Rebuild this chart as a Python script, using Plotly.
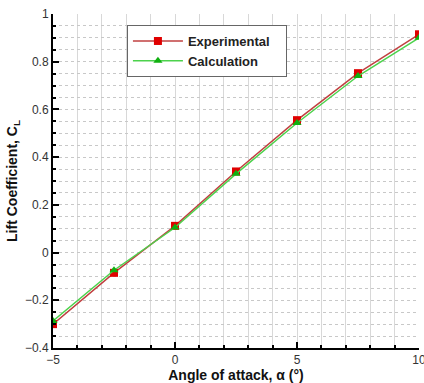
import plotly.graph_objects as go

alpha = [-5, -2.5, 0, 2.5, 5, 7.5, 10]
cl_exp = [-0.30, -0.085, 0.112, 0.34, 0.555, 0.752, 0.915]
cl_calc = [-0.287, -0.074, 0.105, 0.33, 0.543, 0.740, 0.900]

FONT = "Liberation Sans, Arial, sans-serif"

fig = go.Figure()
fig.add_trace(go.Scatter(
    x=alpha, y=cl_exp, name="Experimental   ", mode="lines+markers",
    line=dict(color="#c04040", width=1.5),
    marker=dict(symbol="square", size=8, color="#e00000"),
))
fig.add_trace(go.Scatter(
    x=alpha, y=cl_calc, name="Calculation", mode="lines+markers",
    line=dict(color="#4cd24c", width=1.5),
    marker=dict(symbol="triangle-up", size=8, color="#10b010"),
))

fig.update_layout(
    width=424, height=383,
    margin=dict(l=53, r=5, t=14, b=35, autoexpand=False),
    paper_bgcolor="white", plot_bgcolor="white",
    font=dict(family=FONT, size=12, color="#333333"),
    showlegend=True,
    legend=dict(
        x=0.202, y=0.967, xanchor="left", yanchor="top",
        bordercolor="#666666", borderwidth=1, bgcolor="white",
        font=dict(family=FONT, size=13, color="#222222", weight="bold"),
        tracegroupgap=0, itemwidth=50,
    ),
    xaxis=dict(
        range=[-5, 10], tickmode="linear", tick0=-5, dtick=5,
        ticks="inside", ticklen=6, tickwidth=1.5, tickcolor="black",
        showline=True, linecolor="black", linewidth=2, mirror=False,
        zeroline=False, ticklabeloverflow="allow", automargin=False,
        gridcolor="#d8d8d8", gridwidth=1, showgrid=True,
        minor=dict(dtick=1, ticks="inside", ticklen=3, tickcolor="black",
                   showgrid=True, gridcolor="#d8d8d8"),
        tickfont=dict(family=FONT, size=12, color="#333333"),
        title=dict(text="Angle of attack, α (°)", standoff=2,
                   font=dict(family=FONT, size=14, color="#111111", weight="bold")),
    ),
    yaxis=dict(
        range=[-0.4, 1], tickmode="linear", tick0=-0.4, dtick=0.2,
        ticks="inside", ticklen=6, tickwidth=1.5, tickcolor="black",
        showline=True, linecolor="black", linewidth=2, mirror=False,
        zeroline=False, automargin=False,
        showgrid=True, gridcolor="#c8c8c8", griddash="dot",
        minor=dict(dtick=0.05, ticks="inside", ticklen=3, tickcolor="black",
                   showgrid=True, gridcolor="#c8c8c8", griddash="dot"),
        tickfont=dict(family=FONT, size=12, color="#333333"),
        title=dict(text="Lift Coefficient, C<sub>L</sub>", standoff=4,
                   font=dict(family=FONT, size=14, color="#111111", weight="bold")),
    ),
)

fig.write_html("out.html")
